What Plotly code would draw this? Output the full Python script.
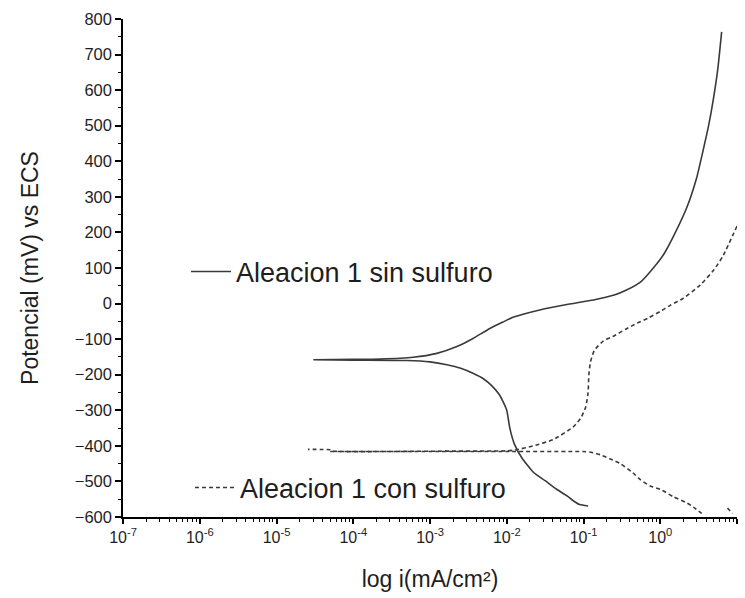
import numpy as np
import plotly.graph_objects as go

# ---- data (log10 of current density in mA/cm2, potential in mV vs ECS) ----
sin_cat_log = [-4.52, -4.0, -3.3, -3.0, -2.78, -2.6, -2.44, -2.3, -2.2, -2.1, -2.05, -2.0,
               -1.96, -1.9, -1.8, -1.65, -1.5, -1.35, -1.22, -1.13, -1.05, -0.94]
sin_cat_E = [-158, -159, -160, -164, -172, -182, -196, -212, -230, -255, -275, -300,
             -350, -395, -435, -475, -498, -522, -540, -555, -565, -569]

sin_an_log = [-4.52, -4.0, -3.65, -3.22, -2.91, -2.65, -2.44, -2.22, -2.05, -1.91, -1.57,
              -1.2, -0.87, -0.6, -0.44, -0.25, -0.09, 0.05, 0.17, 0.35, 0.47, 0.56, 0.63,
              0.69, 0.75, 0.80]
sin_an_E = [-158, -157, -156, -151, -140, -121, -98, -70, -52, -38, -18,
            -2, 10, 24, 38, 62, 100, 140, 188, 272, 350, 432, 500,
            572, 660, 764]

con_an_log = [-4.59, -4.3, -4.25, -3.0, -2.0, -1.9, -1.65, -1.39, -1.13, -1.03, -0.97,
              -0.94, -0.93, -0.91, -0.86, -0.74, -0.62, -0.45, -0.3, -0.15, 0.0, 0.13,
              0.3, 0.52, 0.7, 0.82, 1.0]
con_an_E = [-410, -411, -415, -415, -414, -412, -400, -382, -346, -320, -290,
            -250, -200, -165, -132, -105, -93, -72, -55, -40, -22, -5,
            15, 52, 95, 135, 218]

con_cat_log = [-4.3, -3.0, -2.0, -1.0, -0.9, -0.78, -0.65, -0.52, -0.36, -0.26, -0.13,
               0.0, 0.17, 0.35, 0.45, 0.54, None, 0.876, 0.941]
con_cat_E = [-416, -416, -416, -416, -418, -425, -437, -450, -475, -495, -513,
             -522, -543, -561, -575, -590, None, -575, -590]

x_tick_exp = [-7, -6, -5, -4, -3, -2, -1, 0, 1]
x_tick_text = ["10<sup>%d</sup>" % e for e in x_tick_exp]
y_tick_vals = list(range(-600, 801, 100))


def to_i(logs):
    return [None if v is None else 10 ** v for v in logs]


sin_x = to_i(sin_cat_log[::-1] + sin_an_log)
sin_y = sin_cat_E[::-1] + sin_an_E
con_x = to_i(con_an_log[::-1] + [None] + con_cat_log)
con_y = con_an_E[::-1] + [None] + con_cat_E

FONT = "Liberation Sans, Arial, sans-serif"
TXT = "#1e1e1e"
LINE = "#3a3a3a"

fig = go.Figure()
fig.add_trace(go.Scatter(x=sin_x, y=sin_y, mode="lines", name="Aleacion 1 sin sulfuro",
                         line=dict(color=LINE, width=1.6, shape="spline", smoothing=0.5),
                         legend="legend", showlegend=True, connectgaps=False))
fig.add_trace(go.Scatter(x=con_x, y=con_y, mode="lines", name="Aleacion 1 con sulfuro",
                         line=dict(color=LINE, width=1.6, dash="4px,3px", shape="spline",
                                   smoothing=0.5),
                         legend="legend2", showlegend=True, connectgaps=False))

fig.update_layout(
    width=745, height=598,
    margin=dict(l=123, r=8, t=19, b=81),
    paper_bgcolor="white", plot_bgcolor="white",
    showlegend=True,
    font=dict(family=FONT, color=TXT),
    legend=dict(x=(186 - 123) / 614, y=(517 - 272) / 498, xanchor="left", yanchor="middle",
                bgcolor="rgba(0,0,0,0)", itemwidth=40,
                font=dict(size=27, family=FONT, color=TXT)),
    legend2=dict(x=(190 - 123) / 614, y=(517 - 488) / 498, xanchor="left", yanchor="middle",
                 bgcolor="rgba(0,0,0,0)", itemwidth=40,
                 font=dict(size=27, family=FONT, color=TXT)),
)

fig.update_xaxes(
    type="log", range=[-7, 1],
    tickmode="array", tickvals=[10 ** e for e in x_tick_exp], ticktext=x_tick_text,
    ticks="outside", ticklen=5, tickwidth=1.5, tickcolor="black",
    showline=True, linecolor="black", linewidth=1.5,
    showgrid=False, zeroline=False,
    tickfont=dict(size=16, family=FONT, color=TXT),
    minor=dict(tickmode="linear", dtick="D1", ticks="outside", ticklen=3, tickwidth=1.2,
               tickcolor="black", showgrid=False),
    title=dict(text="log i(mA/cm²)", font=dict(size=23, family=FONT, color=TXT), standoff=26),
)
fig.update_yaxes(
    range=[-600, 800],
    tickmode="array", tickvals=y_tick_vals,
    ticks="outside", ticklen=6, tickwidth=1.5, tickcolor="black",
    showline=True, linecolor="black", linewidth=1.5,
    showgrid=False, zeroline=False,
    tickfont=dict(size=16.5, family=FONT, color=TXT),
    minor=dict(dtick=50, ticks="outside", ticklen=3, tickwidth=1.2, tickcolor="black",
               showgrid=False),
    title=dict(text="Potencial (mV) vs ECS", font=dict(size=23, family=FONT, color=TXT),
               standoff=30),
)

fig.write_html("out.html")
